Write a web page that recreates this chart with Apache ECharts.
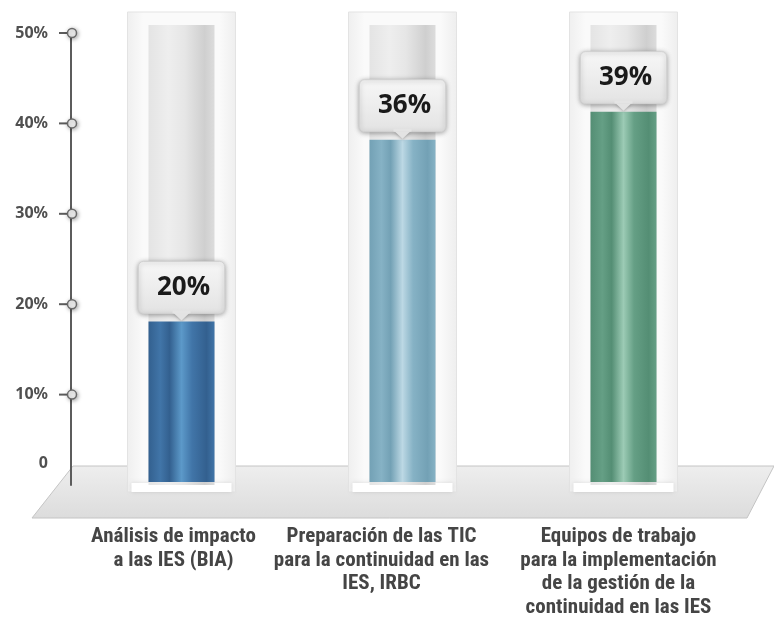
<!DOCTYPE html>
<html><head><meta charset="utf-8">
<script src="https://cdn.jsdelivr.net/npm/echarts@6/dist/echarts.min.js"></script>
<style>html,body{margin:0;padding:0;background:#fff}#c{width:774px;height:626px}</style>
</head><body><div id="c"></div>
<script>
const categories = [
  'Análisis de impacto\na las IES (BIA)',
  'Preparación de las TIC\npara la continuidad en las\nIES, IRBC',
  'Equipos de trabajo\npara la implementación\nde la gestión de la\ncontinuidad en las IES'
];
const labelPercent = [20, 36, 39];          // values printed in the callouts
const fillLevel = [18.1, 38.2, 41.3];       // fill heights as read against the axis
const yTickValues = [10, 20, 30, 40, 50];
const fillColors = [
  ['#33608f', '#4175a8', '#5c99c9'],
  ['#73a1b5', '#86b2c5', '#bcd8e4'],
  ['#548e74', '#659f85', '#9ccbb5']
];
const labelShift = [16, 42, 10];

const chart = echarts.init(document.getElementById('c'));
const LG = echarts.graphic.LinearGradient;

function fillGrad(c) {
  return new LG(0, 0, 1, 0, [
    {offset: 0, color: c[0]}, {offset: 0.18, color: c[1]}, {offset: 0.32, color: c[0]},
    {offset: 0.5, color: c[2]}, {offset: 0.66, color: c[1]}, {offset: 0.88, color: c[0]},
    {offset: 1, color: c[1]}
  ]);
}

const catFont = "'Liberation Sans Narrow','Arial Narrow','Roboto Condensed','Liberation Sans',sans-serif";
const tickFont = "'Noto Sans','Open Sans',sans-serif";
const rich = {};
labelShift.forEach((s, i) => {
  rich['s' + i] = {padding: [0, s, 0, 0], fontSize: 21, fontWeight: 'bold', color: '#454545', lineHeight: 23.5, fontFamily: catFont};
});

chart.setOption({
  animation: false,
  grid: {left: 71, right: 40, top: 33, bottom: 141},
  graphic: [{
    type: 'polygon', z: -1,
    shape: {points: [[32, 518], [73, 466], [774, 466], [747, 518]]},
    style: {fill: new LG(0, 0, 0, 1, [{offset: 0, color: '#eeeeee'}, {offset: 1, color: '#dcdcdc'}]),
            stroke: '#c4c4c4', lineWidth: 1}
  }],
  xAxis: {
    type: 'category', data: categories,
    axisLine: {show: false}, axisTick: {show: false}, splitLine: {show: false},
    axisLabel: {
      interval: 0, margin: 40,
      formatter: (v, idx) => v.split('\n').map(l => '{s' + idx + '|' + l + '}').join('\n'),
      rich: rich
    }
  },
  yAxis: {
    type: 'value', min: 0, max: 50, interval: 10,
    axisLine: {show: true, lineStyle: {color: '#5c5c5c', width: 2}},
    axisTick: {show: false}, splitLine: {show: false},
    axisLabel: {
      margin: 23, color: '#505050', fontSize: 16, fontWeight: 'bold', fontFamily: tickFont,
      formatter: v => v === 0 ? '{z|0}' : v + '%',
      rich: {z: {padding: [0, 0, 44, 0], fontSize: 16, fontWeight: 'bold', color: '#505050', fontFamily: tickFont}}
    }
  },
  series: [
    {
      type: 'custom', z: 2,
      data: categories.map((c, i) => [i, fillLevel[i], labelPercent[i]]),
      renderItem: function (params, api) {
        const i = api.value(0);
        const base = api.coord([i, 0]);
        const top = api.coord([i, api.value(1)]);
        const maxP = api.coord([i, 50]);
        const cx = base[0];
        const ty = top[1];
        const glassTop = maxP[1] - 21;
        const tubeTop = maxP[1] - 8;
        return {
          type: 'group',
          children: [
            {type: 'rect', shape: {x: cx - 54, y: glassTop, width: 108, height: base[1] + 7 - glassTop},
             style: {fill: new LG(0, 0, 1, 0, [{offset: 0, color: '#efefef'}, {offset: 0.15, color: '#fafafa'}, {offset: 0.85, color: '#fafafa'}, {offset: 1, color: '#eeeeee'}]),
                     stroke: '#e3e3e3', lineWidth: 1}},
            {type: 'rect', shape: {x: cx - 50, y: base[1] - 2, width: 100, height: 9},
             style: {fill: '#ffffff', shadowBlur: 4, shadowColor: 'rgba(0,0,0,0.12)'}},
            {type: 'rect', shape: {x: cx - 33, y: tubeTop, width: 66, height: base[1] - tubeTop},
             style: {fill: new LG(0, 0, 1, 0, [{offset: 0, color: '#e4e4e4'}, {offset: 0.3, color: '#eeeeee'}, {offset: 0.55, color: '#e6e6e6'}, {offset: 0.85, color: '#cfcfcf'}, {offset: 1, color: '#dcdcdc'}])}},
            {type: 'rect', shape: {x: cx - 33, y: ty, width: 66, height: base[1] - 3 - ty},
             style: {fill: fillGrad(fillColors[i])}},
            {type: 'rect', shape: {x: cx - 43, y: ty - 60, width: 86, height: 52, r: 5},
             style: {fill: new LG(0, 0, 0, 1, [{offset: 0, color: '#f7f7f7'}, {offset: 1, color: '#e3e3e3'}]),
                     stroke: '#d2d2d2', lineWidth: 1, shadowBlur: 5, shadowOffsetY: 1, shadowColor: 'rgba(0,0,0,0.35)'}},
            {type: 'polygon', shape: {points: [[cx - 8, ty - 8.5], [cx + 8, ty - 8.5], [cx, ty - 1]]},
             style: {fill: '#e3e3e3', shadowBlur: 3, shadowOffsetY: 1, shadowColor: 'rgba(0,0,0,0.25)'}},
            {type: 'rect', shape: {x: cx - 9, y: ty - 11, width: 18, height: 3}, style: {fill: '#e4e4e4'}},
            {type: 'text', x: cx + 2, y: ty - 34,
             style: {text: api.value(2) + '%', fill: '#1a1a1a', fontSize: 26, fontWeight: 'bold', fontFamily: 'Open Sans',
                     align: 'center', verticalAlign: 'middle'}}
          ]
        };
      }
    },
    {
      type: 'custom', z: 5,
      data: yTickValues.map(v => [0, v]),
      renderItem: function (params, api) {
        const p = api.coord([0, api.value(1)]);
        const bw = api.size([1, 0])[0];
        const x = p[0] - bw / 2;
        return {
          type: 'group',
          children: [
            {type: 'line', shape: {x1: x - 12, y1: p[1], x2: x, y2: p[1]}, style: {stroke: '#5c5c5c', lineWidth: 2}},
            {type: 'circle', shape: {cx: x + 1, cy: p[1], r: 4.5},
             style: {fill: '#f4f4f4', stroke: '#6a6a6a', lineWidth: 1.5, shadowBlur: 4, shadowOffsetX: 1, shadowOffsetY: 1, shadowColor: 'rgba(0,0,0,0.35)'}}
          ]
        };
      }
    }
  ]
});
</script>
</body></html>
